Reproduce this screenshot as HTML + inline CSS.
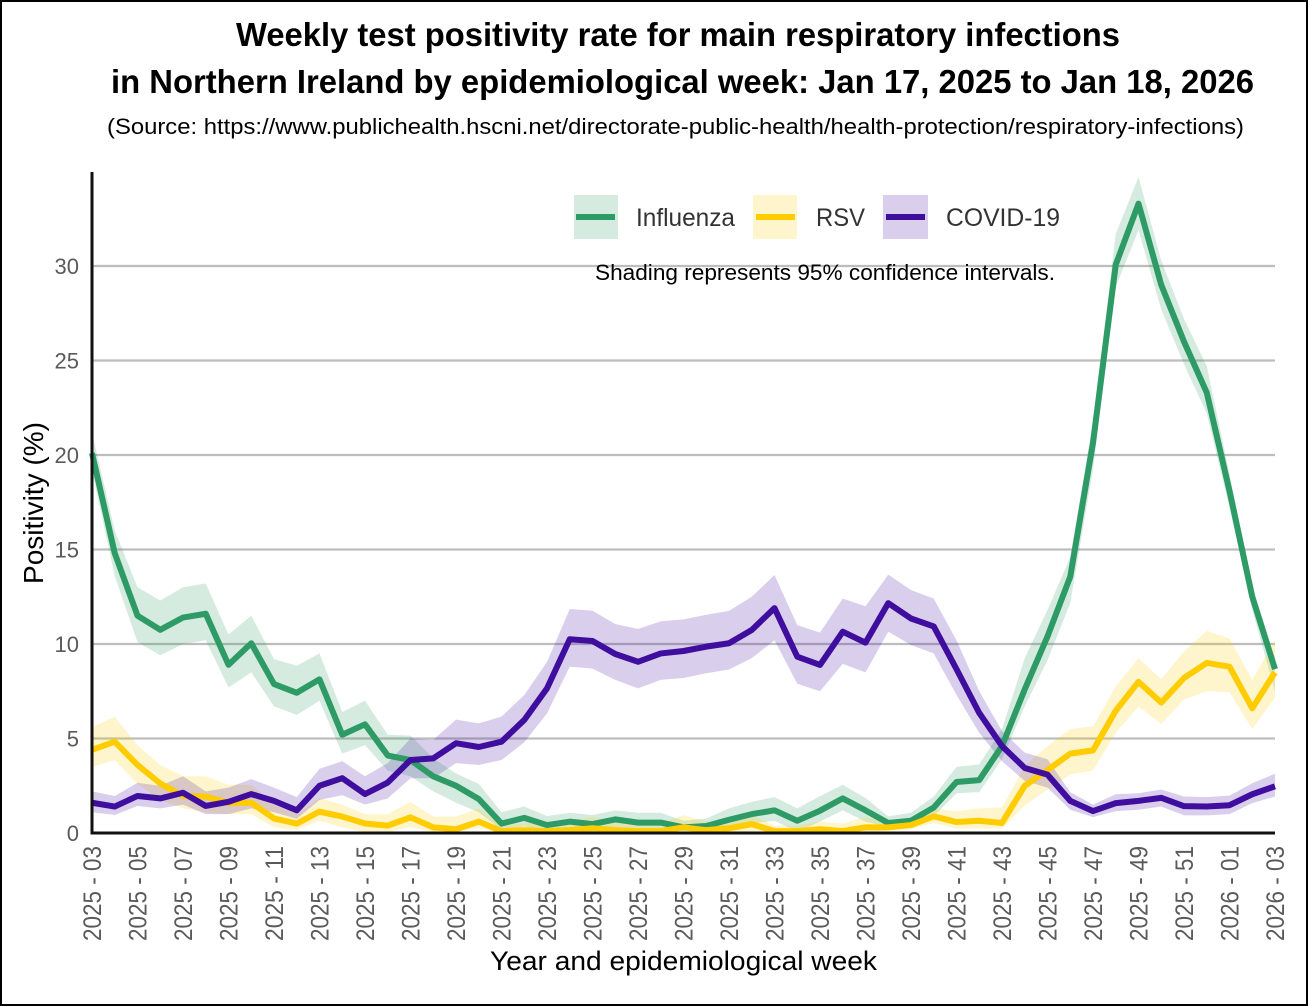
<!DOCTYPE html>
<html lang="en">
<head>
<meta charset="utf-8">
<title>Weekly test positivity rate</title>
<style>
html,body{margin:0;padding:0;background:#fff;}
svg{display:block;font-family:"Liberation Sans",sans-serif;}
</style>
</head>
<body>
<svg id="chart" xmlns="http://www.w3.org/2000/svg" width="1308" height="1006" viewBox="0 0 1308 1006">
  <rect x="1" y="1" width="1306" height="1004" fill="#fff" stroke="#000" stroke-width="2"/>
  <text x="236" y="46" font-size="33" font-weight="bold" fill="#000" textLength="884" lengthAdjust="spacingAndGlyphs">Weekly test positivity rate for main respiratory infections</text>
  <text x="111" y="93" font-size="33" font-weight="bold" fill="#000" textLength="1143" lengthAdjust="spacingAndGlyphs">in Northern Ireland by epidemiological week: Jan 17, 2025 to Jan 18, 2026</text>
  <text x="107" y="134" font-size="22" fill="#000" textLength="1137" lengthAdjust="spacingAndGlyphs">(Source: https://www.publichealth.hscni.net/directorate-public-health/health-protection/respiratory-infections)</text>
  <g id="grid"></g>
  <g id="bands"></g>
  <g id="lines"></g>
  <g id="axes"></g>
  <g id="yticks"></g>
  <g id="xticks"></g>
  <text transform="translate(43,503) rotate(-90)" text-anchor="middle" font-size="28" fill="#000" textLength="162" lengthAdjust="spacingAndGlyphs">Positivity (%)</text>
  <text x="490" y="970" font-size="27" fill="#000" textLength="387" lengthAdjust="spacingAndGlyphs">Year and epidemiological week</text>
  <g>
    <g>
      <rect x="574" y="195" width="44" height="44" fill="#2E9B66" fill-opacity="0.2"/>
      <line x1="576" x2="615" y1="217" y2="217" stroke="#2E9B66" stroke-width="6"/>
      <text x="636" y="226" font-size="25" fill="#333" textLength="99" lengthAdjust="spacingAndGlyphs">Influenza</text>
    </g>
    <g>
      <rect x="753" y="195" width="44" height="44" fill="#FFCC00" fill-opacity="0.2"/>
      <line x1="756" x2="795" y1="217" y2="217" stroke="#FFCC00" stroke-width="6"/>
      <text x="816" y="226" font-size="25" fill="#333" textLength="49" lengthAdjust="spacingAndGlyphs">RSV</text>
    </g>
    <g>
      <rect x="883" y="195" width="45" height="44" fill="#3F0E9E" fill-opacity="0.2"/>
      <line x1="886" x2="925" y1="217" y2="217" stroke="#3F0E9E" stroke-width="6"/>
      <text x="946" y="226" font-size="25" fill="#333" textLength="114" lengthAdjust="spacingAndGlyphs">COVID-19</text>
    </g>
  </g>
  <text x="595" y="280" font-size="22" fill="#000" textLength="460" lengthAdjust="spacingAndGlyphs">Shading represents 95% confidence intervals.</text>
</svg>
<script>
const weeks = ["2025 - 03","2025 - 04","2025 - 05","2025 - 06","2025 - 07","2025 - 08","2025 - 09","2025 - 10","2025 - 11","2025 - 12","2025 - 13","2025 - 14","2025 - 15","2025 - 16","2025 - 17","2025 - 18","2025 - 19","2025 - 20","2025 - 21","2025 - 22","2025 - 23","2025 - 24","2025 - 25","2025 - 26","2025 - 27","2025 - 28","2025 - 29","2025 - 30","2025 - 31","2025 - 32","2025 - 33","2025 - 34","2025 - 35","2025 - 36","2025 - 37","2025 - 38","2025 - 39","2025 - 40","2025 - 41","2025 - 42","2025 - 43","2025 - 44","2025 - 45","2025 - 46","2025 - 47","2025 - 48","2025 - 49","2025 - 50","2025 - 51","2025 - 52","2026 - 01","2026 - 02","2026 - 03"];
const yTickValues = [0,5,10,15,20,25,30];
const xTickEvery = 2;

const fluValues = [20.1,14.8,11.5,10.75,11.4,11.6,8.9,10.04,7.88,7.42,8.13,5.2,5.75,4.1,3.86,3.0,2.5,1.8,.5,.8,.42,.6,.47,.72,.55,.55,.3,.37,.7,1.0,1.2,.65,1.18,1.83,1.2,.53,.65,1.35,2.7,2.8,4.6,7.6,10.4,13.56,20.65,30.07,33.3,29,26,23.3,18.1,12.5,8.67];
const fluUpper = [21.2,16,13,12.3,13,13.2,10.5,11.5,9.2,8.85,9.5,6.4,7,5.2,5.15,3.95,3.15,2.6,1.1,1.4,.9,1.07,.95,1.2,1.07,1.07,.65,.77,1.3,1.65,1.9,1.3,1.95,2.55,1.85,.88,1.07,1.93,3.5,3.63,5.5,9.25,11.8,14.6,21.8,31.7,34.7,30.3,27.2,24.7,19,13.1,9.25];
const fluLower = [19.2,13.6,10.1,9.4,10,10.2,7.7,8.5,6.7,6.25,7,4.2,4.65,3.3,3,2.2,1.6,1.1,.15,.35,.07,.15,.07,.25,.15,.15,.1,.1,.25,.5,.65,.07,.6,1.2,.6,.3,.37,.88,2.1,2.16,3.9,6.7,9.14,12.16,19.25,28.9,31.9,27.7,24.8,22.2,17.2,11.8,7.5];

const rsvValues = [4.4,4.83,3.6,2.62,1.96,1.93,1.6,1.6,.77,.5,1.13,.87,.5,.39,.83,.3,.2,.6,.1,.15,.1,.15,.25,.15,.1,.1,.3,.15,.25,.47,.1,.1,.2,.1,.3,.3,.42,.88,.58,.65,.53,2.5,3.33,4.2,4.37,6.47,8,6.9,8.2,9,8.8,6.6,8.5];
const rsvUpper = [5.6,6.15,4.65,3.6,3,3,2.55,2.55,1.5,1,1.85,1.5,1,1,1.65,.87,.87,1.3,.4,.5,.6,.65,.85,.6,.4,.47,.95,.6,.6,.95,.4,.4,.6,.5,.85,.53,.72,1.28,1.16,1.3,1.35,3.55,4.6,5.5,5.65,7.75,9.25,8.14,9.6,10.7,10.3,8.1,10.2];
const rsvLower = [3.5,3.85,2.6,1.75,1.3,1.1,1,1,.3,.15,.65,.3,.05,.05,.3,.05,.05,.25,0,0,0,0,0,0,0,0,0,0,0,0,0,0,0,0,0,.14,.2,.53,.23,.23,.23,1.46,2.28,3.1,3.3,5.3,6.7,5.77,7.05,7.5,7.44,5.5,7.16];

const covidValues = [1.6,1.4,1.96,1.83,2.13,1.43,1.65,2.06,1.7,1.2,2.5,2.9,2.06,2.67,3.86,3.95,4.75,4.55,4.83,5.98,7.65,10.25,10.16,9.47,9.06,9.5,9.63,9.86,10.04,10.74,11.9,9.33,8.89,10.65,10.07,12.16,11.35,10.93,8.67,6.35,4.6,3.44,3.09,1.7,1.16,1.58,1.7,1.86,1.42,1.4,1.47,2.05,2.47];
const covidUpper = [2.2,1.96,2.65,2.5,3,2.2,2.4,2.85,2.4,1.9,3.4,3.8,3,3.7,5,4.93,6,5.8,6.16,7.3,9.05,11.85,11.76,11.06,10.8,11.2,11.3,11.55,11.75,12.5,13.65,11,10.6,12.4,12,13.67,12.86,12.4,10.2,7.5,5.4,4.25,3.9,2.16,1.5,2.05,2.1,2.3,1.93,1.9,1.98,2.63,3.14];
const covidLower = [1.1,.95,1.43,1.3,1.5,1,1,1.3,1.1,.75,1.75,2,1.5,1.83,2.9,2.9,3.7,3.6,3.86,4.8,6.33,8.8,8.7,8.1,7.65,8.1,8.2,8.45,8.65,9.25,10.2,7.9,7.5,8.95,8.5,10.65,9.95,9.5,7.3,5.3,3.8,2.75,2.4,1.23,.84,1.16,1.23,1.4,.93,.93,1,1.58,1.93];

const NS = "http://www.w3.org/2000/svg";
const plotLeft = 92, plotRight = 1275, plotBase = 833, pxPerUnit = 18.9;
function xScale(i){ return plotLeft + i * (plotRight - plotLeft) / (weeks.length - 1); }
function yScale(v){ return plotBase - v * pxPerUnit; }
function make(tag, attrs, parent){
  const el = document.createElementNS(NS, tag);
  for (const k in attrs) el.setAttribute(k, attrs[k]);
  parent.appendChild(el);
  return el;
}
const gridG = document.getElementById("grid");
const bandsG = document.getElementById("bands");
const linesG = document.getElementById("lines");
const axesG = document.getElementById("axes");
const yTicksG = document.getElementById("yticks");
const xTicksG = document.getElementById("xticks");

yTickValues.forEach(function(v){
  if (v > 0) {
    const g = make("line", {x1: plotLeft, x2: plotRight, y1: yScale(v), y2: yScale(v), stroke: "#bdbdbd", "stroke-width": 2.2}, gridG);
    
    
  }
  const t = make("text", {x: 79, y: yScale(v) + 8, "text-anchor": "end", "font-size": 22, fill: "#5a5a5a"}, yTicksG);
  t.textContent = String(v);
  
  
});

function drawBand(upper, lower, color){
  const pts = [];
  upper.forEach(function(v, i){ pts.push(xScale(i) + "," + yScale(v)); });
  for (let i = lower.length - 1; i >= 0; i--) pts.push(xScale(i) + "," + yScale(lower[i]));
  const p = make("polygon", {points: pts.join(" "), fill: color, "fill-opacity": 0.2}, bandsG);
  
  
}
function drawLine(values, color){
  const pts = values.map(function(v, i){ return xScale(i) + "," + yScale(v); });
  const p = make("polyline", {points: pts.join(" "), fill: "none", stroke: color, "stroke-width": 6, "stroke-linejoin": "round"}, linesG);
  
  
}
drawBand(fluUpper, fluLower, "#2E9B66");
drawBand(rsvUpper, rsvLower, "#FFCC00");
drawBand(covidUpper, covidLower, "#3F0E9E");
drawLine(fluValues, "#2E9B66");
drawLine(rsvValues, "#FFCC00");
drawLine(covidValues, "#3F0E9E");

const yAxis = make("line", {x1: plotLeft, x2: plotLeft, y1: 172, y2: plotBase + 1.5, stroke: "#111", "stroke-width": 3}, axesG);


const xAxis = make("line", {x1: plotLeft - 1.5, x2: plotRight, y1: plotBase, y2: plotBase, stroke: "#111", "stroke-width": 3}, axesG);



weeks.forEach(function(w, i){
  if (i % xTickEvery !== 0) return;
  const t = make("text", {transform: "translate(" + (xScale(i) + 9) + ",846) rotate(-90)", "text-anchor": "end", "font-size": 25, fill: "#5a5a5a", textLength: 95, lengthAdjust: "spacingAndGlyphs"}, xTicksG);
  t.textContent = w;
  
  
});
</script>
</body>
</html>
